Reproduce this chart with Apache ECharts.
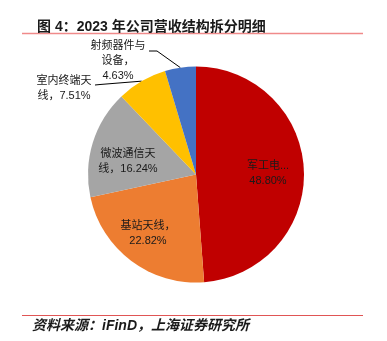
<!DOCTYPE html>
<html>
<head>
<meta charset="utf-8">
<script src="https://cdn.jsdelivr.net/npm/echarts@6/dist/echarts.min.js"></script>
<style>
  html, body { margin: 0; padding: 0; background: #ffffff; }
  #chart { width: 387px; height: 341px; }
</style>
</head>
<body>
<div id="chart"></div>
<script>
// 2023 revenue breakdown by business line (percent of total)
const categories = ['军工电子', '基站天线', '微波通信天线', '室内终端天线', '射频器件与设备'];
const shares = [48.80, 22.82, 16.24, 7.51, 4.63];
const sliceColors = ['#C00000', '#ED7D31', '#A5A5A5', '#FFC000', '#4472C4'];
// label text as printed on each slice
const labelTexts = [
  '军工电子，\n48.80%',
  '基站天线，\n22.82%',
  '微波通信天\n线，16.24%',
  '室内终端天\n线，7.51%',
  '射频器件与\n设备，\n4.63%'
];
// where each label sits (pixel anchor, horizontal alignment)
const labelSpots = [
  { x: 268, y: 173, align: 'center' },
  { x: 148, y: 233, align: 'center' },
  { x: 128, y: 161, align: 'center' },
  { x: 64, y: 88, align: 'center' },
  { x: 118, y: 61, align: 'center' }
];

const FONT = '"Liberation Sans", "Noto Sans CJK SC", sans-serif';

const chart = echarts.init(document.getElementById('chart'), null, { renderer: 'canvas' });

const pieData = categories.map((name, i) => ({
  name,
  value: shares[i],
  itemStyle: { color: sliceColors[i] },
  label: { formatter: labelTexts[i], color: '#1a1a1a', textBorderWidth: 0 },
  labelLine: { show: i >= 3 }
}));

chart.setOption({
  animation: false,
  backgroundColor: '#ffffff',
  title: {
    text: '图 4：2023 年公司营收结构拆分明细',
    left: 32,
    top: 15,
    textStyle: { fontFamily: FONT, fontSize: 14, fontWeight: 'bold', color: '#1a1a1a' }
  },
  graphic: [
    { type: 'line', shape: { x1: 22, y1: 33.5, x2: 363, y2: 33.5 }, style: { stroke: '#F08A8A', lineWidth: 1.5 } },
    { type: 'line', shape: { x1: 22, y1: 315.5, x2: 363, y2: 315.5 }, style: { stroke: '#E05555', lineWidth: 1.2 } },
    {
      type: 'text', left: 32, top: 319,
      style: {
        text: '资料来源：iFinD，上海证券研究所',
        fontFamily: FONT, fontSize: 14, fontStyle: 'italic', fontWeight: 'bold', fill: '#1a1a1a'
      }
    }
  ],
  series: [{
    type: 'pie',
    center: [196, 174.5],
    radius: [0, 108],
    startAngle: 90,
    clockwise: true,
    data: pieData,
    label: {
      show: true,
      position: 'outside',
      fontFamily: FONT,
      fontSize: 11,
      lineHeight: 15,
      color: '#1a1a1a',
      textBorderWidth: 0
    },
    labelLine: {
      show: true,
      length: 10,
      length2: 10,
      lineStyle: { color: '#000000', width: 1 }
    },
    labelLayout: function (params) {
      const i = params.dataIndex;
      const spot = labelSpots[i];
      const out = {
        x: spot.x,
        y: spot.y,
        align: spot.align,
        verticalAlign: 'middle'
      };
      if (i >= 3 && params.labelLinePoints) {
        const start = params.labelLinePoints[0];
        if (i === 3) {
          out.labelLinePoints = [start, [100, 84.5], [95, 85]];
        } else {
          out.labelLinePoints = [start, [157, 51], [149, 51]];
        }
      }
      return out;
    },
    emphasis: { disabled: true }
  }]
});
</script>
</body>
</html>
